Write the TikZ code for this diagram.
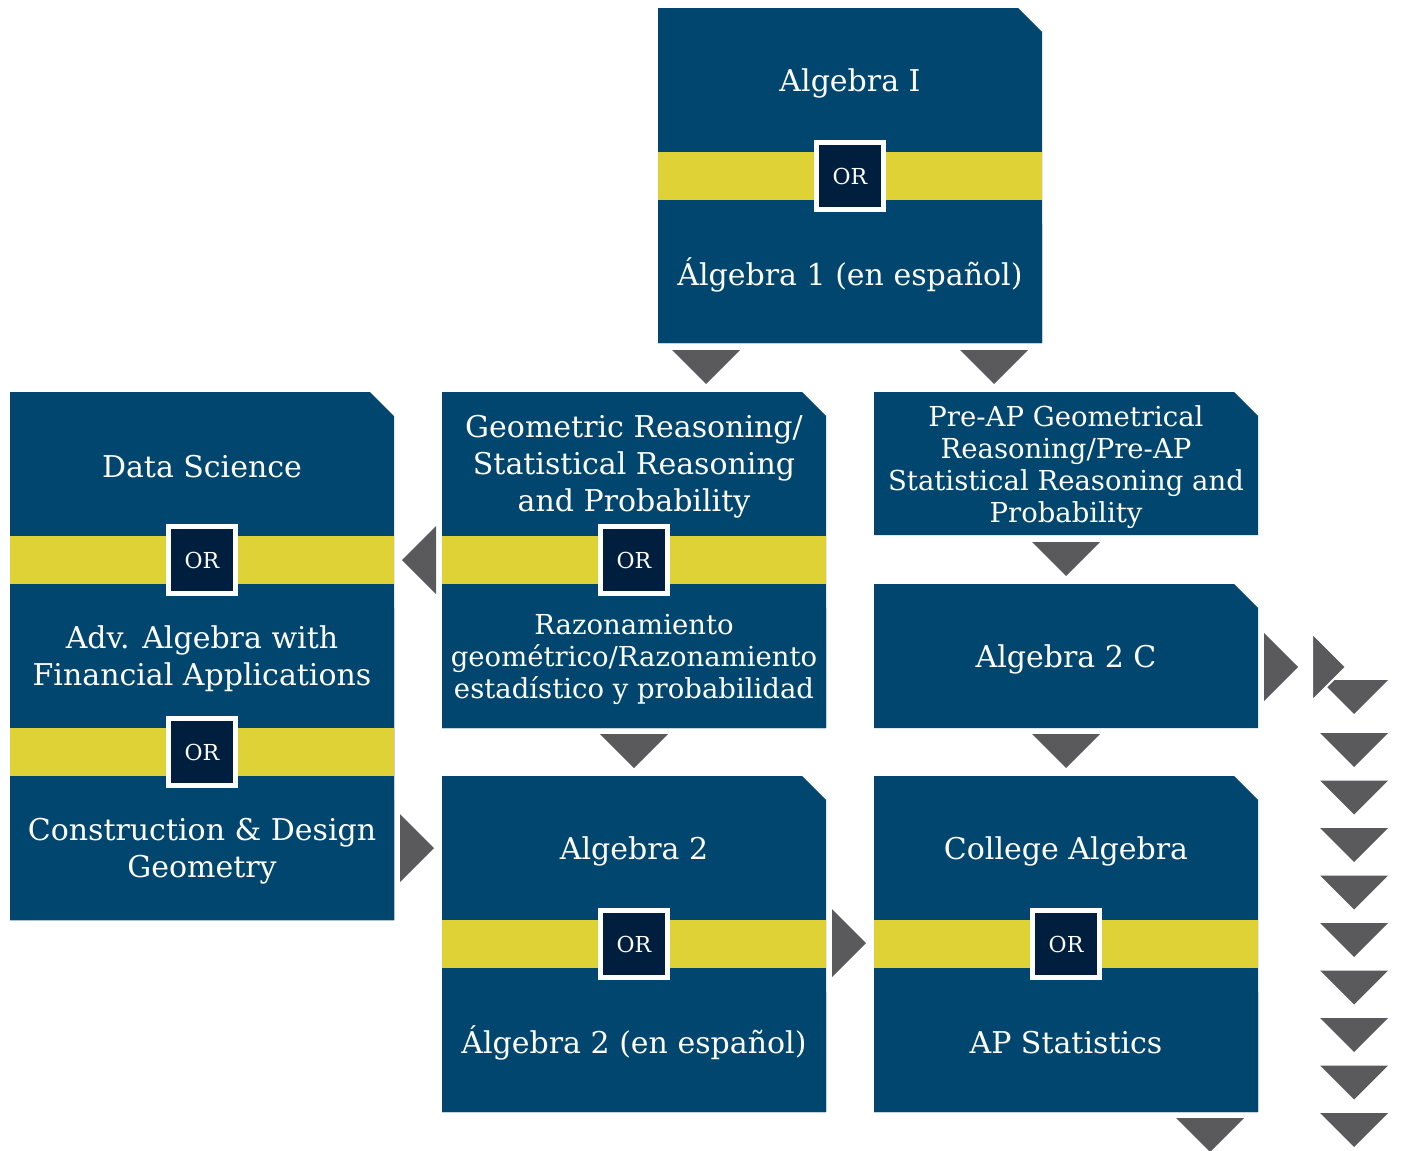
\documentclass[tikz,border=0pt]{standalone}
\usepackage{fontspec}
\setmainfont{DejaVu Serif}
\usepackage{tikz}
\usetikzlibrary{positioning}
\definecolor{navy}{RGB}{1,70,111}
\definecolor{bandyellow}{RGB}{222,210,55}
\definecolor{ordark}{RGB}{0,31,63}
\definecolor{arrowgray}{RGB}{90,90,92}
\tikzstyle{panel}=[fill=navy]
\tikzstyle{band}=[fill=bandyellow]
\tikzstyle{course}=[text=white, align=center, inner sep=0pt, yshift=-3pt,
		font=\fontsize{30}{37}\selectfont]
\tikzstyle{coursesmall}=[course, font=\fontsize{27.5}{32}\selectfont]
\tikzstyle{orbox}=[draw=white, line width=5pt, fill=ordark, text=white,
		minimum size=67pt, inner sep=0pt, font=\fontsize{22}{22}\selectfont]
\tikzstyle{tri}=[fill=arrowgray]
\newcommand{\cutpanel}[4]{\fill[panel] (#1,#2) -- (#3-24,#2) -- (#3,#2+24)
		-- (#3,#4) -- (#1,#4) -- cycle;}
\newcommand{\yband}[3]{\fill[band] (#1,#2) rectangle (#3,#2+48);}
\newcommand{\tridown}[2]{\fill[tri] (#1,#2) -- ++(68,0) -- ++(-34,34) -- cycle;}
\newcommand{\triright}[2]{\fill[tri] (#1,#2) -- ++(34,34) -- ++(-34,34) -- cycle;}
\newcommand{\trileft}[2]{\fill[tri] (#1,#2) -- ++(0,68) -- ++(-34,-34) -- cycle;}

\begin{document}
\begin{tikzpicture}[x=1pt,y=-1pt]
    \useasboundingbox (0,0) rectangle (1408,1151);

    % Algebra I
    \cutpanel{658}{8}{1042}{343}
    \yband{658}{152}{1042}
    \cutpanel{658}{200}{1042}{343}
    \node (Alg1) [course] at (850,80) {Algebra I};
    \node (Alg1Or) [orbox] at (850,176) {OR};
    \node (Alg1Es) [course] at (850,272) {Álgebra 1 (en español)};

    % left column
    \cutpanel{10}{392}{394}{920}
    \yband{10}{536}{394}
    \cutpanel{10}{584}{394}{920}
    \yband{10}{728}{394}
    \cutpanel{10}{776}{394}{920}
    \node (DataSci) [course] at (202,464) {Data Science};
    \node (DataSciOr) [orbox] at (202,560) {OR};
    \node (AdvAlg) [course] at (202,656) {Adv. Algebra with\\Financial Applications};
    \node (AdvAlgOr) [orbox] at (202,752) {OR};
    \node (ConstGeo) [course] at (202,848) {Construction \& Design\\Geometry};

    % Geometric Reasoning
    \cutpanel{442}{392}{826}{728}
    \yband{442}{536}{826}
    \cutpanel{442}{584}{826}{728}
    \node (GeoStat) [course] at (634,464)
        {Geometric Reasoning/\\Statistical Reasoning\\and Probability};
    \node (GeoStatOr) [orbox] at (634,560) {OR};
    \node (GeoStatEs) [coursesmall] at (634,656)
        {Razonamiento\\geométrico/Razonamiento\\estadístico y probabilidad};

    % Pre-AP and Algebra 2 C
    \cutpanel{874}{392}{1258}{535}
    \node (PreAP) [coursesmall] at (1066,464)
        {Pre-AP Geometrical\\Reasoning/Pre-AP\\Statistical Reasoning and\\Probability};
    \cutpanel{874}{584}{1258}{728}
    \node (Alg2C) [course] at (1066,656) {Algebra 2 C};

    % Algebra 2
    \cutpanel{442}{776}{826}{1112}
    \yband{442}{920}{826}
    \cutpanel{442}{968}{826}{1112}
    \node (Alg2) [course] at (634,848) {Algebra 2};
    \node (Alg2Or) [orbox] at (634,944) {OR};
    \node (Alg2Es) [course] at (634,1040) {Álgebra 2 (en español)};

    % College Algebra
    \cutpanel{874}{776}{1258}{1112}
    \yband{874}{920}{1258}
    \cutpanel{874}{968}{1258}{1112}
    \node (ColAlg) [course] at (1066,848) {College Algebra};
    \node (ColAlgOr) [orbox] at (1066,944) {OR};
    \node (APStat) [course] at (1066,1040) {AP Statistics};

    % arrows
    \tridown{672}{350}
    \tridown{960}{350}
    \tridown{1032}{542}
    \tridown{600}{734}
    \tridown{1032}{734}
    \tridown{1176}{1118}
    \trileft{436}{526}
    \triright{400}{814}
    \triright{832}{909}
    \triright{1264}{633}
    \tridown{1320}{680}
    \filldraw[tri, draw=white, line width=2pt] (1312,633) -- ++(34,34) -- ++(-34,34) -- cycle;
    \foreach \i in {0,...,8} {\tridown{1320}{733+47.5*\i}}

\end{tikzpicture}
\end{document}
